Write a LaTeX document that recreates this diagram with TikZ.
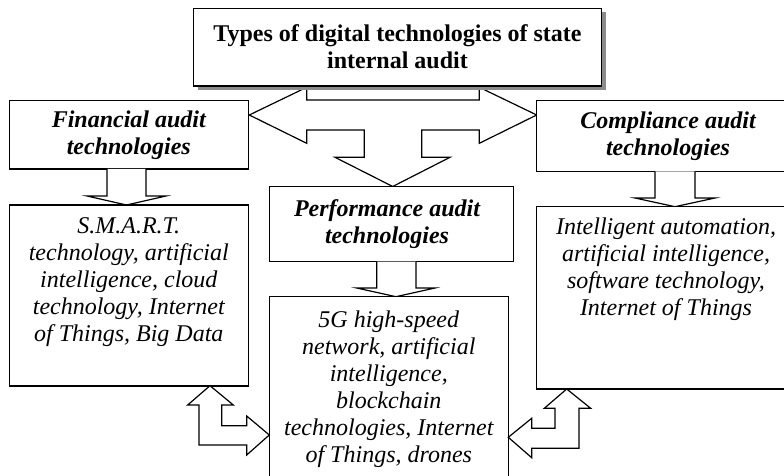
\documentclass[tikz,border=0pt]{standalone}
\usepackage{fontspec}
\setmainfont{Liberation Serif}
\begin{document}
\begin{tikzpicture}[x=0.5pt,y=-0.5pt,
  frame/.style={draw=black, line width=0.6pt, fill=white, inner sep=0pt, outer sep=0pt, anchor=north west},
  ttl/.style={font=\fontsize{12}{13.5}\selectfont\bfseries\itshape, align=center, inner sep=0pt},
  head/.style={font=\fontsize{12}{13.5}\selectfont\bfseries, align=center, inner sep=0pt},
  body/.style={font=\fontsize{12}{13.5}\selectfont\itshape, align=center, inner sep=0pt, anchor=north},
  blk/.style={draw=black, line width=0.6pt, fill=white, line join=miter}]
\useasboundingbox (0,0) rectangle (784,476);
\clip (0,0) rectangle (784,476);

% big three-way arrow
\draw[blk] (306.7,87.3) -- (306.7,100) -- (479.3,100) -- (479.3,87.3) -- (536.7,115)
  -- (479.3,143.3) -- (479.3,130) -- (421.7,130) -- (421.7,157.3) -- (450,157.3)
  -- (392.7,186.5) -- (335,157.3) -- (364.3,157.3) -- (364.3,130) -- (306.7,130)
  -- (306.7,143.3) -- (249.3,115) -- cycle;

% top box with shadow
\fill[gray!90] (197.5,12.5) rectangle (605.7,90);
\node[frame, minimum width=204.2pt, minimum height=38.85pt] (top) at (193.3,8.3) {};
\node[head] (toptxt) at (397.5,47) {Types of digital technologies of state\\internal audit};

% label boxes
\node[frame, minimum width=119.5pt, minimum height=34.15pt] (fin) at (9.3,100.7) {};
\node[ttl] (fintxt) at (128.8,135) {Financial audit\\technologies};
\node[frame, minimum width=131.65pt, minimum height=35.4pt] (comp) at (536.7,100.7) {};
\node[ttl] (comptxt) at (668,136) {Compliance audit\\technologies};
\node[frame, minimum width=122pt, minimum height=37.5pt] (perf) at (269.3,186.7) {};
\node[ttl] (perftxt) at (387,224.2) {Performance audit\\technologies};

% small down arrows
\draw[blk] (107,169) -- (107,196) -- (87,196) -- (126.5,205) -- (166,196) -- (146,196) -- (146,169);
\draw[blk] (655,171.5) -- (655,198) -- (635,198) -- (675,206.7) -- (715,198) -- (695,198) -- (695,171.5);
\draw[blk] (376.7,261.7) -- (376.7,288) -- (356.7,288) -- (396,296.7) -- (435,288) -- (416,288) -- (416,261.7);

% content boxes
\node[frame, minimum width=119.5pt, minimum height=90.5pt] (finc) at (9.3,205) {};
\node[body] (finctxt) at (128.8,217.5) {S.M.A.R.T.\\technology, artificial\\intelligence, cloud\\technology, Internet\\of Things, Big Data};
\node[frame, minimum width=131.65pt, minimum height=91.15pt] (compc) at (536.7,206.7) {};
\node[body] (compctxt) at (666,217) {Intelligent automation,\\artificial intelligence,\\software technology,\\Internet of Things};
\node[frame, minimum width=119.5pt, minimum height=95pt] (perfc) at (269.3,296.7) {};
\node[body] (perfctxt) at (388.8,310) {5G high-speed\\network, artificial\\intelligence,\\blockchain\\technologies, Internet\\of Things, drones};

% bent double arrows
\draw[blk] (210,385.7) -- (233.3,405) -- (221.7,405) -- (221.7,425.7) -- (246.7,425.7)
  -- (246.7,416) -- (269.3,435) -- (246.7,455) -- (246.7,445) -- (199,445)
  -- (199,405) -- (187.7,405) -- cycle;
\draw[blk] (566.7,389) -- (590.7,408.3) -- (579,408.3) -- (579,448.3) -- (531.7,448.3)
  -- (531.7,457.7) -- (508.3,437.3) -- (531.7,418.3) -- (531.7,428.3) -- (555,428.3)
  -- (555,408.3) -- (544.3,408.3) -- cycle;
\end{tikzpicture}
\end{document}
